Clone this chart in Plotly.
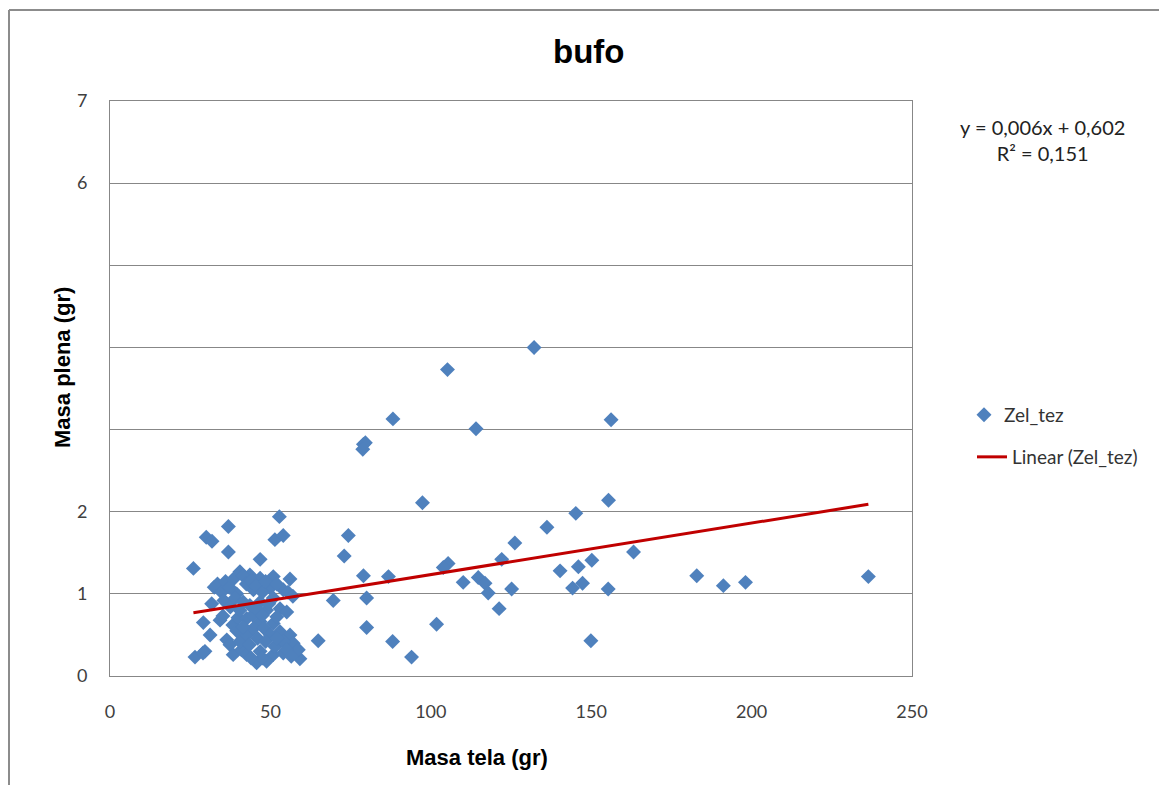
import plotly.graph_objects as go

# Masa tela (gr) vs Masa plena (gr)
masa_tela = [
    132.2, 105.2, 88.2, 156.2, 114.1, 79.0, 79.6, 78.8, 97.4, 155.4,
    145.2, 136.2, 126.2, 163.2, 150.2, 146.0, 140.3, 122.1, 105.4, 103.9,
    110.1, 114.8, 116.9, 117.9, 121.3, 125.2, 147.3, 144.2, 149.9, 155.3,
    182.9, 191.2, 198.1, 236.4, 101.8, 94.0, 88.1, 80.0, 80.0, 69.6,
    86.8, 79.0, 73.0, 74.3, 64.9, 59.2,
    52.8, 36.9, 30.0, 31.8, 36.9, 51.4, 54.0, 46.8, 26.0, 56.1,
    40.5, 43.6, 46.8, 50.9, 29.1, 31.2, 26.5, 29.6, 31.7, 34.3,
    35.2, 38.3, 39.9, 36.4, 37.4, 29.0, 38.4, 41.0, 42.6, 44.7,
    49.9, 54.0, 50.9, 48.8, 53.0, 55.1, 42.6, 46.8, 50.9, 53.0,
    56.1, 57.1, 58.7, 46.8, 50.9, 54.0, 45.7, 48.8, 40.5, 42.6,
    44.7, 51.4, 54.0, 43.6, 46.8,
    32.5, 33.5, 34.8, 36.0, 37.2, 38.5, 39.5, 41.5, 42.5, 44.0,
    45.5, 47.5, 48.5, 52.0, 55.5, 57.0,
    35.5, 37.5, 39.0, 40.5, 41.5, 44.5, 45.5, 47.5, 49.5, 52.0,
    48.0, 50.0, 46.0, 43.5, 48.5, 52.0, 55.0, 56.5, 47.5, 44.0,
    39.5, 41.5,
]
masa_plena = [
    4.00, 3.73, 3.13, 3.12, 3.01, 2.82, 2.84, 2.76, 2.11, 2.14,
    1.98, 1.81, 1.62, 1.51, 1.41, 1.33, 1.28, 1.42, 1.37, 1.32,
    1.14, 1.20, 1.13, 1.01, 0.82, 1.06, 1.13, 1.07, 0.43, 1.06,
    1.22, 1.10, 1.14, 1.21, 0.63, 0.23, 0.42, 0.59, 0.95, 0.92,
    1.21, 1.22, 1.46, 1.71, 0.43, 0.21,
    1.94, 1.82, 1.69, 1.64, 1.51, 1.66, 1.71, 1.42, 1.31, 1.18,
    1.27, 1.23, 1.19, 1.21, 0.65, 0.50, 0.23, 0.30, 0.88, 0.68,
    0.73, 0.62, 0.71, 0.44, 0.38, 0.28, 0.26, 0.32, 0.26, 1.05,
    1.07, 1.05, 0.95, 0.80, 0.82, 0.78, 0.70, 0.66, 0.64, 0.54,
    0.50, 0.40, 0.32, 0.30, 0.26, 0.28, 0.16, 0.18, 0.42, 0.50,
    0.58, 0.36, 0.42, 0.86, 0.90,
    1.08, 1.12, 1.02, 1.15, 1.08, 1.18, 1.00, 1.22, 1.12, 1.16,
    1.10, 1.02, 1.15, 1.12, 1.02, 0.97,
    0.92, 0.84, 0.95, 0.80, 0.90, 0.74, 0.82, 0.74, 0.88, 0.72,
    0.58, 0.50, 0.46, 0.38, 0.42, 0.46, 0.32, 0.24, 0.22, 0.22,
    0.55, 0.60,
]

# linear trendline end points as drawn
trend_x = [26.0, 236.4]
trend_y = [0.77, 2.09]

y_ticks = [0, 1, 2, 3, 4, 5, 6, 7]
y_labels = ["0", "1", "2", "", "", "", "6", "7"]
x_ticks = [0, 50, 100, 150, 200, 250]

# the page adds an 8px body margin, so the figure is a bit smaller than the window
OFF = 8
W, H = 1167 - OFF, 785 - OFF
L, R, T, B = 110 - OFF, 255, 101 - OFF, 109
pw, ph = W - L - R, H - T - B


def px_x(p):
    # page pixel -> paper x
    return (p - OFF - L) / pw


def px_y(p):
    return (H - B - (p - OFF)) / ph


grid = "#878787"
sans = "Lato, Open Sans, sans-serif"
tick_font = dict(family=sans, size=18, color="#404040")
leg_font = dict(family=sans, size=19, color="#333")

fig = go.Figure()
fig.add_trace(go.Scatter(
    x=masa_tela, y=masa_plena, mode="markers", name="Zel_tez",
    marker=dict(symbol="diamond", size=11.5, color="#4F81BD"),
    legend="legend",
))
fig.add_trace(go.Scatter(
    x=trend_x, y=trend_y, mode="lines", name="Linear (Zel_tez)",
    line=dict(color="#C00000", width=3),
    legend="legend2",
))

fig.update_layout(
    width=W, height=H,
    margin=dict(l=L, r=R, t=T, b=B),
    paper_bgcolor="white", plot_bgcolor="white",
    xaxis=dict(range=[0, 250], tickvals=x_ticks, showgrid=False,
               zeroline=False, showline=True, linecolor=grid, mirror=True,
               ticks="", tickfont=tick_font, ticklabelstandoff=19),
    yaxis=dict(range=[0, 7], tickvals=y_ticks, ticktext=y_labels,
               showgrid=True, gridcolor=grid, gridwidth=1,
               zeroline=False, showline=True, linecolor=grid, mirror=True,
               ticks="", tickfont=tick_font, ticklabelstandoff=18),
    legend=dict(x=px_x(964), y=px_y(415), xanchor="left", yanchor="middle",
                font=leg_font, bgcolor="rgba(0,0,0,0)"),
    legend2=dict(x=px_x(972), y=px_y(457), xanchor="left", yanchor="middle",
                 font=leg_font, bgcolor="rgba(0,0,0,0)"),
    showlegend=True,
)

bold = "Liberation Sans, Arial"


def label(text, xp, yp, size, family=bold, color="black", angle=0):
    fig.add_annotation(text=text, x=px_x(xp), y=px_y(yp), xref="paper", yref="paper",
                       xanchor="center", yanchor="middle", showarrow=False,
                       textangle=angle, align="center",
                       font=dict(family=family, size=size, color=color))


label("<b>bufo</b>", 588, 52, 33)
label("<b>Masa plena (gr)</b>", 62, 368, 22, angle=-90)
label("<b>Masa tela (gr)</b>", 477, 757, 22)
label("y = 0,006x + 0,602<br>R² = 0,151", 1042, 140, 20, family=sans, color="#222")

# outer chart frame (left and top edges visible)
fig.add_shape(type="line", xref="paper", yref="paper",
              x0=px_x(9), x1=px_x(9), y0=px_y(800), y1=px_y(10),
              line=dict(color="#8c8c8c", width=2))
fig.add_shape(type="line", xref="paper", yref="paper",
              x0=px_x(9), x1=px_x(1180), y0=px_y(10), y1=px_y(10),
              line=dict(color="#8c8c8c", width=2))

fig.write_html("out.html")
